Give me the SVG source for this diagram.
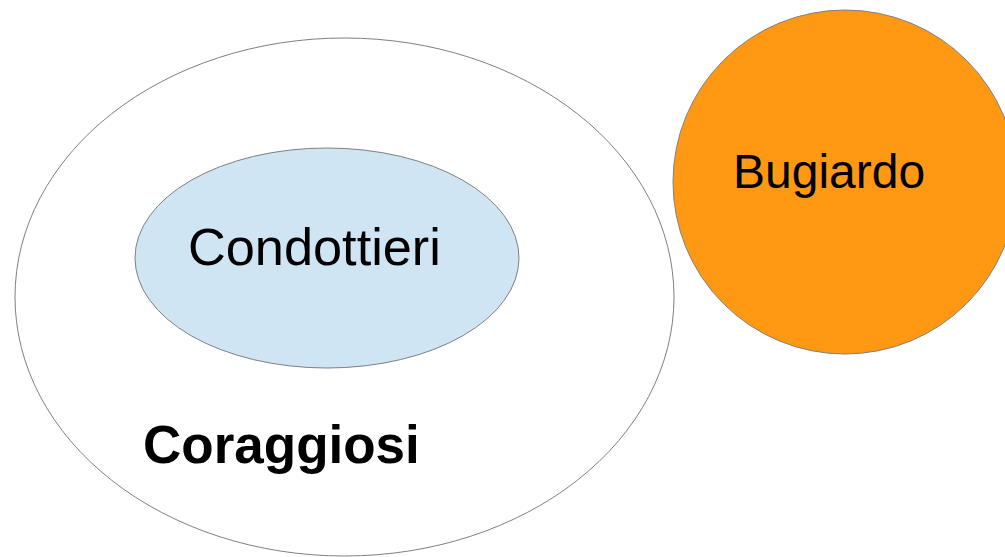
<svg xmlns="http://www.w3.org/2000/svg" width="1005" height="557" viewBox="0 0 1005 557">
<style>
.shape{stroke:#808080;stroke-width:1}
.lbl{font-family:"Liberation Sans",Arial,sans-serif;fill:#000}
</style>
<rect width="1005" height="557" fill="#fff"/>
<g id="coraggiosi">
<ellipse class="shape" cx="344.5" cy="297" rx="329.5" ry="259" fill="#fff"/>
<text class="lbl" x="143" y="463" font-size="53" font-weight="bold">Coraggiosi</text>
</g>
<g id="condottieri">
<ellipse class="shape" cx="327" cy="258" rx="192" ry="110" fill="#cfe5f4"/>
<text class="lbl" x="188" y="265" font-size="52.3">Condottieri</text>
</g>
<g id="bugiardo">
<circle class="shape" cx="845" cy="182" r="172" fill="#ff9913"/>
<text class="lbl" x="733" y="188" font-size="48">Bugiardo</text>
</g>
<g id="connectors"/>
</svg>
